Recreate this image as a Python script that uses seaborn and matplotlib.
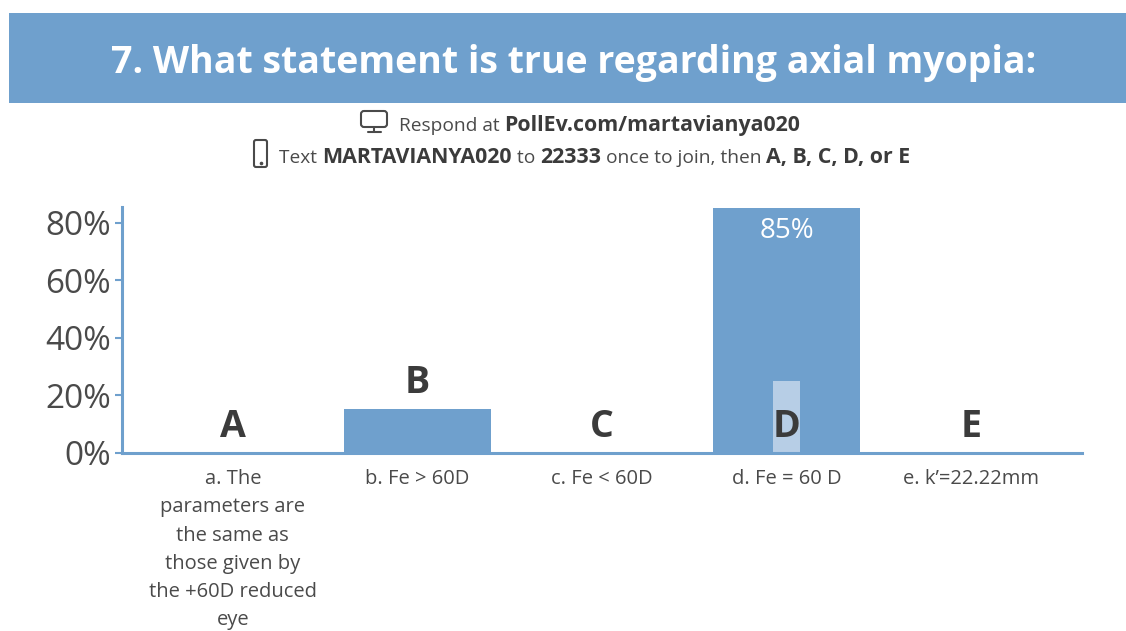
"""Poll results slide: axial myopia question."""

import matplotlib

matplotlib.use("Agg")
import matplotlib.pyplot as plt
import pandas as pd
import seaborn as sns
from matplotlib.patches import FancyBboxPatch, Rectangle

BLUE = "#6fa0cd"
LIGHT = "#b7cee6"
INK = "#3b3b3b"
GREY = "#4a4a4a"

TITLE = "7. What statement is true regarding axial myopia:"
LINE_1 = [("Respond at ", "normal"), ("PollEv.com/martavianya020", "bold")]
LINE_2 = [
    ("Text ", "normal"),
    ("MARTAVIANYA020", "bold"),
    (" to ", "normal"),
    ("22333", "bold"),
    (" once to join, then ", "normal"),
    ("A, B, C, D, or E", "bold"),
]

letters = ["A", "B", "C", "D", "E"]
answers = [
    "a. The\nparameters are\nthe same as\nthose given by\nthe +60D reduced\neye",
    "b. Fe > 60D",
    "c. Fe < 60D",
    "d. Fe = 60 D",
    "e. k’=22.22mm",
]
percent = [0, 15, 0, 85, 0]
highlight = [0, 0, 0, 25, 0]
y_ticks = [0, 20, 40, 60, 80]

sns.set_theme(style="white")
plt.rcParams["font.family"] = ["Open Sans", "DejaVu Sans"]


def rich_line(ax, runs, x, y):
    """Write normal and bold runs one after the other on one line."""
    renderer = ax.figure.canvas.get_renderer()
    for text, weight in runs:
        color = GREY if weight == "normal" else INK
        size = 13.8 if weight == "normal" else 15.4
        t = ax.text(x, y, text.replace(" ", "\u00a0"), fontsize=size, fontweight=weight,
                    color=color, ha="left", va="baseline")
        x += t.get_window_extent(renderer).width


fig = plt.figure(figsize=(11.26, 6.31), dpi=100, facecolor="white")

# full figure layer in pixel coordinates for the slide header
bg = fig.add_axes([0, 0, 1, 1])
bg.set_xlim(0, 1126)
bg.set_ylim(631, 0)
bg.axis("off")
bg.add_patch(Rectangle((9, 13), 1117, 90, color=BLUE, lw=0))
bg.text(574, 58, TITLE, color="white", fontsize=27, fontweight="bold",
        ha="center", va="center_baseline")

bg.add_patch(FancyBboxPatch((361, 111), 26, 16, boxstyle="round,pad=0,rounding_size=3",
                            fc="none", ec=GREY, lw=1.5))
bg.plot([374, 374], [127, 131], color=GREY, lw=1.5)
bg.plot([368, 381], [131.5, 131.5], color=GREY, lw=1.5)
bg.add_patch(FancyBboxPatch((254, 140), 13, 27, boxstyle="round,pad=0,rounding_size=2",
                            fc="none", ec=GREY, lw=1.5))
bg.plot([260.5], [162.5], marker="o", ms=1.6, color=GREY)

rich_line(bg, LINE_1, 399, 131)
rich_line(bg, LINE_2, 279, 163)

# chart
left, right, bottom, top = 122, 1082, 452.5, 207
ax = fig.add_axes([left / 1126, 1 - bottom / 631, (right - left) / 1126, (bottom - top) / 631])
ax.patch.set_alpha(0)

df = pd.DataFrame({"answer": letters, "percent": percent, "highlight": highlight})
sns.barplot(data=df, x="answer", y="percent", color=BLUE, saturation=1, width=0.8, linewidth=0, ax=ax)
sns.barplot(data=df, x="answer", y="highlight", color=LIGHT, saturation=1, width=0.146, linewidth=0, ax=ax)

ax.set_xlim(-0.6, 4.6)
ax.set_ylim(0, 85.5)
ax.set_xlabel("")
ax.set_ylabel("")
ax.set_yticks(y_ticks)
ax.set_yticklabels([f"{v}%" for v in y_ticks])
ax.set_xticks(range(len(answers)))
ax.set_xticklabels(answers, fontsize=14.5, color=GREY, linespacing=1.55, va="top")
ax.tick_params(axis="x", length=0, pad=12)
ax.tick_params(axis="y", length=5, width=1.5, color=BLUE, labelsize=24, labelcolor=GREY, pad=3, left=True)

sns.despine(ax=ax)
for side in ("left", "bottom"):
    ax.spines[side].set_color(BLUE)
    ax.spines[side].set_linewidth(2.2)

# letters sit on the bar, unless the bar is tall enough to hold the value label
for i, (letter, value) in enumerate(zip(letters, percent)):
    base = 0 if value > 50 else value
    ax.annotate(letter, (i, base), xytext=(0, 5), textcoords="offset points", ha="center",
                va="bottom", fontsize=27, fontweight="bold", color=INK)
    if value > 50:
        ax.annotate(f"{value}%", (i, value), xytext=(0, -6), textcoords="offset points",
                    ha="center", va="top", fontsize=20, color="white")

fig.savefig("out.png", dpi=100)
